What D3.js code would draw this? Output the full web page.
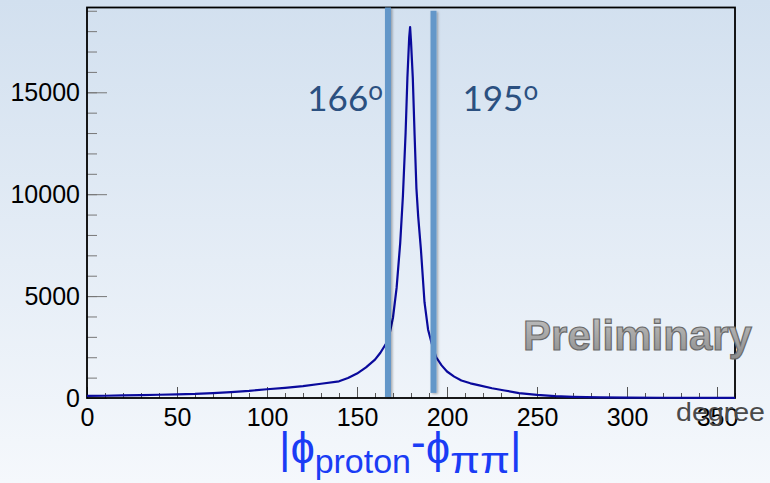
<!DOCTYPE html>
<html>
<head>
<meta charset="utf-8">
<script src="https://cdn.jsdelivr.net/npm/d3@7"></script>
<style>
  html, body { margin: 0; padding: 0; }
  body { width: 770px; height: 483px; overflow: hidden; }
</style>
</head>
<body>
<div id="chart"></div>
<script>
// |phi_proton - phi_pipi| distribution
var phiDiff = [0, 10, 20, 30, 40, 50, 60, 70, 80, 90, 100, 110, 120, 130, 140, 145, 150, 155, 160, 163,
  166, 168, 170, 172, 174, 175.5, 177, 178, 179, 179.5, 180, 181, 182, 183, 184, 185.5, 187.5, 189.5,
  191.5, 194, 197, 200, 204, 208, 213, 218, 225, 232, 240, 250, 260, 270, 285, 300, 320, 340, 360];
var counts = [100, 110, 125, 140, 160, 180, 200, 240, 290, 350, 430, 500, 580, 700, 820, 980, 1200, 1500, 1880, 2220,
  2650, 3100, 3950, 5400, 7600, 9900, 13000, 15700, 17700, 18200, 17500, 15700, 12900, 10300, 8900, 7300, 4700, 3350,
  2680, 2000, 1600, 1300, 1050, 860, 720, 620, 480, 370, 240, 150, 95, 60, 35, 20, 12, 8, 5];

var xMajor = [0, 50, 100, 150, 200, 250, 300, 350];
var yMajor = [0, 5000, 10000, 15000];

// cut lines and their labels
var cutValues = [167.2, 192.5];
var cutLabels = ["166", "195"];

var W = 770, H = 483;
var margin = { top: 7.5, right: 35, bottom: 85, left: 87 },
    width = W - margin.left - margin.right,
    height = H - margin.top - margin.bottom;

var svg = d3.select("#chart").append("svg")
    .attr("width", W)
    .attr("height", H);

var defs = svg.append("defs");
var bg = defs.append("linearGradient").attr("id", "bg")
    .attr("x1", 0).attr("y1", 0).attr("x2", 0).attr("y2", 1);
bg.append("stop").attr("offset", "0%").attr("stop-color", "#d2e0ef");
bg.append("stop").attr("offset", "100%").attr("stop-color", "#f5f8fc");

var prelim = defs.append("linearGradient").attr("id", "prelim")
    .attr("x1", 0).attr("y1", 0).attr("x2", 0).attr("y2", 1);
prelim.append("stop").attr("offset", "0%").attr("stop-color", "#c4c4c4");
prelim.append("stop").attr("offset", "100%").attr("stop-color", "#8c8c8c");

var shadow = defs.append("filter").attr("id", "shadow")
    .attr("x", "-100%").attr("y", "-5%").attr("width", "300%").attr("height", "110%");
shadow.append("feDropShadow").attr("dx", 1.5).attr("dy", 1).attr("stdDeviation", 1.2)
    .attr("flood-color", "#000").attr("flood-opacity", 0.3);

svg.append("rect").attr("width", W).attr("height", H).attr("fill", "url(#bg)");

var g = svg.append("g")
    .attr("transform", "translate(" + margin.left + "," + margin.top + ")");

var x = d3.scaleLinear().domain([0, 360]).range([0, width]);
var y = d3.scaleLinear().domain([0, 19160]).range([height, 0]);

// Y axis: minor then major ticks, drawn inward
g.append("g")
    .call(d3.axisLeft(y).tickValues(d3.range(0, 19001, 1000)).tickSize(-10).tickFormat(""))
    .call(function (s) { s.select(".domain").remove(); })
    .selectAll("line").attr("stroke", "#777");
var yAxis = g.append("g")
    .call(d3.axisLeft(y).tickValues(yMajor).tickSize(-20).tickPadding(7).tickFormat(d3.format("d")));
yAxis.select(".domain").remove();
yAxis.selectAll("line").attr("stroke", "#777");
yAxis.selectAll("text")
    .style("font-family", "'Liberation Sans', Arial, sans-serif")
    .style("font-size", "25px")
    .style("fill", "#000");

// X axis
g.append("g")
    .attr("transform", "translate(0," + height + ")")
    .call(d3.axisBottom(x).tickValues(d3.range(0, 361, 10)).tickSize(-5).tickFormat(""))
    .call(function (s) { s.select(".domain").remove(); })
    .selectAll("line").attr("stroke", "#555");
var xAxis = g.append("g")
    .attr("transform", "translate(0," + height + ")")
    .call(d3.axisBottom(x).tickValues(xMajor).tickSize(-11).tickPadding(10).tickFormat(d3.format("d")));
xAxis.select(".domain").remove();
xAxis.selectAll("line").attr("stroke", "#555");
xAxis.selectAll("text")
    .style("font-family", "'Liberation Sans', Arial, sans-serif")
    .style("font-size", "25px")
    .style("fill", "#000");

// Frame
g.append("rect")
    .attr("width", width).attr("height", height)
    .attr("fill", "none").attr("stroke", "#000").attr("stroke-width", 1.8);

// Histogram line
var pts = phiDiff.map(function (d, i) { return [d, counts[i]]; });
g.append("path")
    .datum(pts)
    .attr("fill", "none")
    .attr("stroke", "#0a0a9c")
    .attr("stroke-width", 2.2)
    .attr("stroke-linejoin", "round")
    .attr("d", d3.line()
      .x(function (d) { return x(d[0]); })
      .y(function (d) { return y(d[1]); }));

// Cut bands
var bandTop = [19160, 19000], bandBottom = [50, 250];
g.selectAll(".cut")
    .data(cutValues)
    .enter().append("rect")
    .attr("class", "cut")
    .attr("x", function (d) { return x(d) - 3; })
    .attr("width", 6)
    .attr("y", function (d, i) { return y(bandTop[i]); })
    .attr("height", function (d, i) { return y(bandBottom[i]) - y(bandTop[i]); })
    .attr("fill", "#6497c9")
    .attr("filter", "url(#shadow)");

var cutText = g.selectAll(".cutlabel")
    .data(cutValues)
    .enter().append("text")
    .attr("class", "cutlabel")
    .attr("x", function (d, i) { return i === 0 ? x(d) - 5 : x(d) + 29; })
    .attr("y", y(14100))
    .attr("text-anchor", function (d, i) { return i === 0 ? "end" : "start"; })
    .style("font-family", "Lato, 'Open Sans', sans-serif")
    .style("font-size", "35px")
    .style("fill", "#2b5080");
cutText.append("tspan").text(function (d, i) { return cutLabels[i]; });
cutText.append("tspan").attr("dy", -11).style("font-size", "26px").text("o");

// axis unit label
svg.append("text")
    .attr("x", 765).attr("y", 421)
    .attr("text-anchor", "end")
    .attr("textLength", 89)
    .attr("lengthAdjust", "spacingAndGlyphs")
    .style("font-family", "'Liberation Sans', Arial, sans-serif")
    .style("font-size", "26px")
    .style("fill", "#4a4a4a")
    .text("degree");

// Preliminary stamp
svg.append("text")
    .attr("x", 523).attr("y", 350)
    .attr("textLength", 229)
    .attr("lengthAdjust", "spacingAndGlyphs")
    .style("font-family", "'Liberation Sans', Arial, sans-serif")
    .style("font-weight", "bold")
    .style("font-size", "43px")
    .style("fill", "url(#prelim)")
    .style("stroke", "#6a6a6a")
    .style("stroke-width", 1.2)
    .text("Preliminary");

// Bottom title |phi_proton - phi_pipi|
var title = svg.append("text")
    .attr("x", 279).attr("y", 463)
    .style("font-family", "'Liberation Sans', 'DejaVu Sans', Arial, sans-serif")
    .style("font-size", "44px")
    .style("fill", "#1a3cf5");
title.append("tspan").text("|\u0278");
title.append("tspan").attr("dy", 10).style("font-size", "34px").text("proton");
title.append("tspan").attr("dy", -16).text("-");
title.append("tspan").attr("dy", 6).text("\u0278");
title.append("tspan").attr("dy", 10).style("font-size", "36px")
    .attr("textLength", 60).attr("lengthAdjust", "spacingAndGlyphs").text("\u03c0\u03c0");
title.append("tspan").attr("dy", -10).text("|");
</script>
</body>
</html>
